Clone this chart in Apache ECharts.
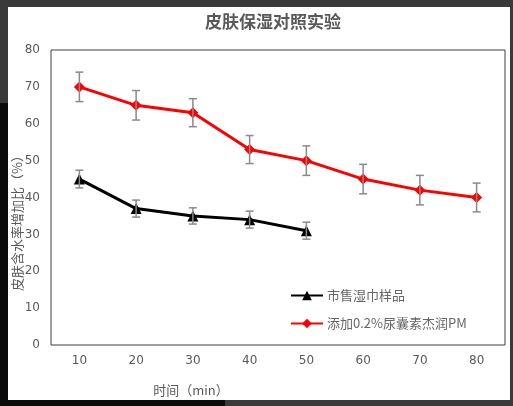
<!DOCTYPE html>
<html><head><meta charset="utf-8">
<script src="https://cdn.jsdelivr.net/npm/echarts@6/dist/echarts.min.js"></script>
<style>html,body{margin:0;padding:0;background:#3a3a3a;}#c{width:513px;height:406px;}</style>
</head><body><div id="c"></div>
<script>
const categories = ['10','20','30','40','50','60','70','80'];
const sampleValues = [45, 37, 35, 34, 31];
const sampleErrors = [2.4, 2.3, 2.2, 2.3, 2.3];
const additiveValues = [70, 65, 63, 53, 50, 45, 42, 40];
const additiveErrors = [4, 4, 3.8, 3.8, 4, 4, 4, 3.9];
const yTicks = [0, 10, 20, 30, 40, 50, 60, 70, 80];
const seriesNames = ['市售湿巾样品', '添加0.2%尿囊素杰润PM'];

function errData(vals, errs) { return vals.map((v, i) => [i, v - errs[i], v + errs[i]]); }
function errRender(params, api) {
  const x = api.value(0);
  const lo = api.coord([x, api.value(1)]);
  const hi = api.coord([x, api.value(2)]);
  const w = 4;
  const st = { stroke: '#8a8a8a', lineWidth: 1.5 };
  return { type: 'group', children: [
    { type: 'line', shape: { x1: lo[0], y1: lo[1], x2: hi[0], y2: hi[1] }, style: st },
    { type: 'line', shape: { x1: lo[0] - w, y1: lo[1], x2: lo[0] + w, y2: lo[1] }, style: st },
    { type: 'line', shape: { x1: hi[0] - w, y1: hi[1], x2: hi[0] + w, y2: hi[1] }, style: st }
  ]};
}
const chart = echarts.init(document.getElementById('c'));
const grey = '#595959';
chart.setOption({
  backgroundColor: '#3a3a3a',
  animation: false,
  graphic: [
    { type: 'rect', z: -10, shape: { x: 0, y: 103, width: 8, height: 303 }, style: { fill: '#0a0a0a' } },
    { type: 'rect', z: -10, shape: { x: 0, y: 400, width: 225, height: 6 }, style: { fill: '#0a0a0a' } },
    { type: 'rect', z: -9, shape: { x: 8, y: 7, width: 502, height: 393 }, style: { fill: '#ffffff' } },
    { type: 'text', z: 5, x: 191, y: 390, style: { text: '时间（min）', fill: grey, font: '13px "Noto Sans CJK SC"', textAlign: 'center', textVerticalAlign: 'middle' } },
    { type: 'text', z: 5, x: 17, y: 220, rotation: Math.PI / 2, style: { text: '皮肤含水率增加比（%）', fill: grey, font: '13px "Noto Sans CJK SC"', textAlign: 'center', textVerticalAlign: 'middle' } }
  ],
  title: {
    text: '皮肤保湿对照实验', left: 268, top: 8, textAlign: 'center',
    textStyle: { fontSize: 17, fontWeight: 'bold', color: grey, fontFamily: 'Noto Sans CJK SC' }
  },
  legend: {
    left: 285, top: 284, orient: 'vertical', itemWidth: 32, itemHeight: 12, itemGap: 15,
    data: seriesNames,
    textStyle: { fontSize: 13, color: '#666', fontFamily: 'Noto Sans CJK SC', padding: [0,0,0,-1] }
  },
  grid: { left: 51, right: 8, top: 50, bottom: 61, show: true, borderColor: '#3f3f3f', borderWidth: 1, backgroundColor: '#fff', containLabel: false, outerBoundsMode: 'none' },
  xAxis: {
    type: 'category', data: categories, boundaryGap: true,
    axisLine: { show: false }, axisTick: { show: false },
    axisLabel: { color: grey, fontSize: 12, margin: 10, fontFamily: 'DejaVu Sans' }
  },
  yAxis: {
    type: 'value', min: 0, max: 80, interval: 10,
    axisLine: { show: false }, axisTick: { show: false }, splitLine: { show: false },
    axisLabel: { color: grey, fontSize: 12, margin: 11, fontFamily: 'DejaVu Sans',
      formatter: v => yTicks.includes(v) ? String(v) : '' }
  },
  series: [
    { name: seriesNames[0], type: 'line', data: sampleValues, symbol: 'triangle', symbolSize: 11,
      lineStyle: { color: '#000', width: 3 }, itemStyle: { color: '#000' }, z: 3 },
    { name: seriesNames[1], type: 'line', data: additiveValues, symbol: 'diamond', symbolSize: 11,
      lineStyle: { color: '#ff0000', width: 3 }, itemStyle: { color: '#ff0000' }, z: 3 },
    { type: 'custom', renderItem: errRender, data: errData(sampleValues, sampleErrors), z: 4, encode: { x: 0, y: [1, 2] } },
    { type: 'custom', renderItem: errRender, data: errData(additiveValues, additiveErrors), z: 4, encode: { x: 0, y: [1, 2] } }
  ]
});
</script></body></html>
